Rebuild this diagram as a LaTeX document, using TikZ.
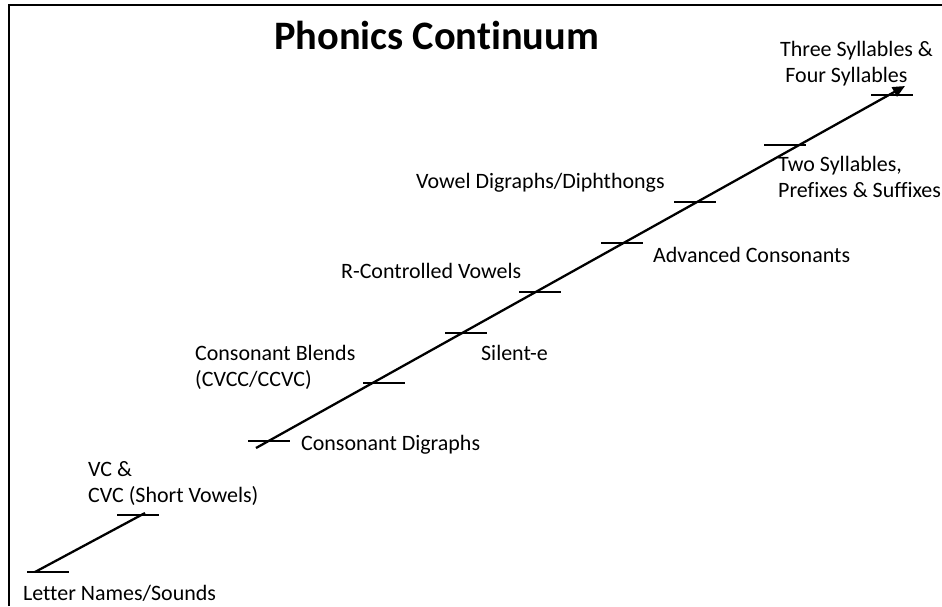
\documentclass[tikz,border=0pt]{standalone}
\usepackage{fontspec}
\setmainfont{Carlito}[Ligatures=NoCommon]
\usepackage{tikz}
\usetikzlibrary{arrows.meta}

\tikzset{lbl/.style={anchor=base west, inner sep=0pt, align=left, font=\fontsize{12.5}{14.7}\selectfont}}

\begin{document}
\begin{tikzpicture} [x=.02cm, y=-.02cm, line width=1.3pt]
\useasboundingbox (0,0) rectangle (942,606);
\draw[line width=1.4pt] (9,606)--(9,5)--(942,5);

\node[anchor=base west, inner sep=0pt, font=\fontsize{23}{27}\selectfont\bfseries] (title) at (273,49) {Phonics Continuum};

\coordinate (s0) at (35,572);
\coordinate (s1) at (145,513);
\coordinate (c0) at (256,448);
\coordinate (c1) at (905,86);
\draw (s0)--(s1);
\draw[-{Triangle[length=7pt, width=6pt]}] (c0)--(c1);

\foreach \x/\y [count=\i] in {27/572, 117/515, 248/441, 363/383, 445/333, 519/292, 601/243, 674/202, 764/145, 871/95} \draw (\x,\y) coordinate (t\i) --++(42,0);

\node[lbl] (letters) at (22,600) {Letter Names/Sounds};
\node[lbl] (cvc) at (87,502) {VC \&\\CVC (Short Vowels)};
\node[lbl] (cdig) at (300,450) {Consonant Digraphs};
\node[lbl] (blends) at (194,386) {Consonant Blends\\(CVCC/CCVC)};
\node[lbl] (silent) at (480,360) {Silent-e};
\node[lbl] (rctrl) at (340,278) {R-Controlled Vowels};
\node[lbl] (adv) at (652,262) {Advanced Consonants};
\node[lbl] (vdig) at (415,188) {Vowel Digraphs/Diphthongs};
\node[lbl] (two) at (777,197) {Two Syllables,\\Prefixes \& Suffixes};
\node[lbl] (three) at (779,82) {Three Syllables \&\\\hspace{3pt}Four Syllables};

\end{tikzpicture}
\end{document}
